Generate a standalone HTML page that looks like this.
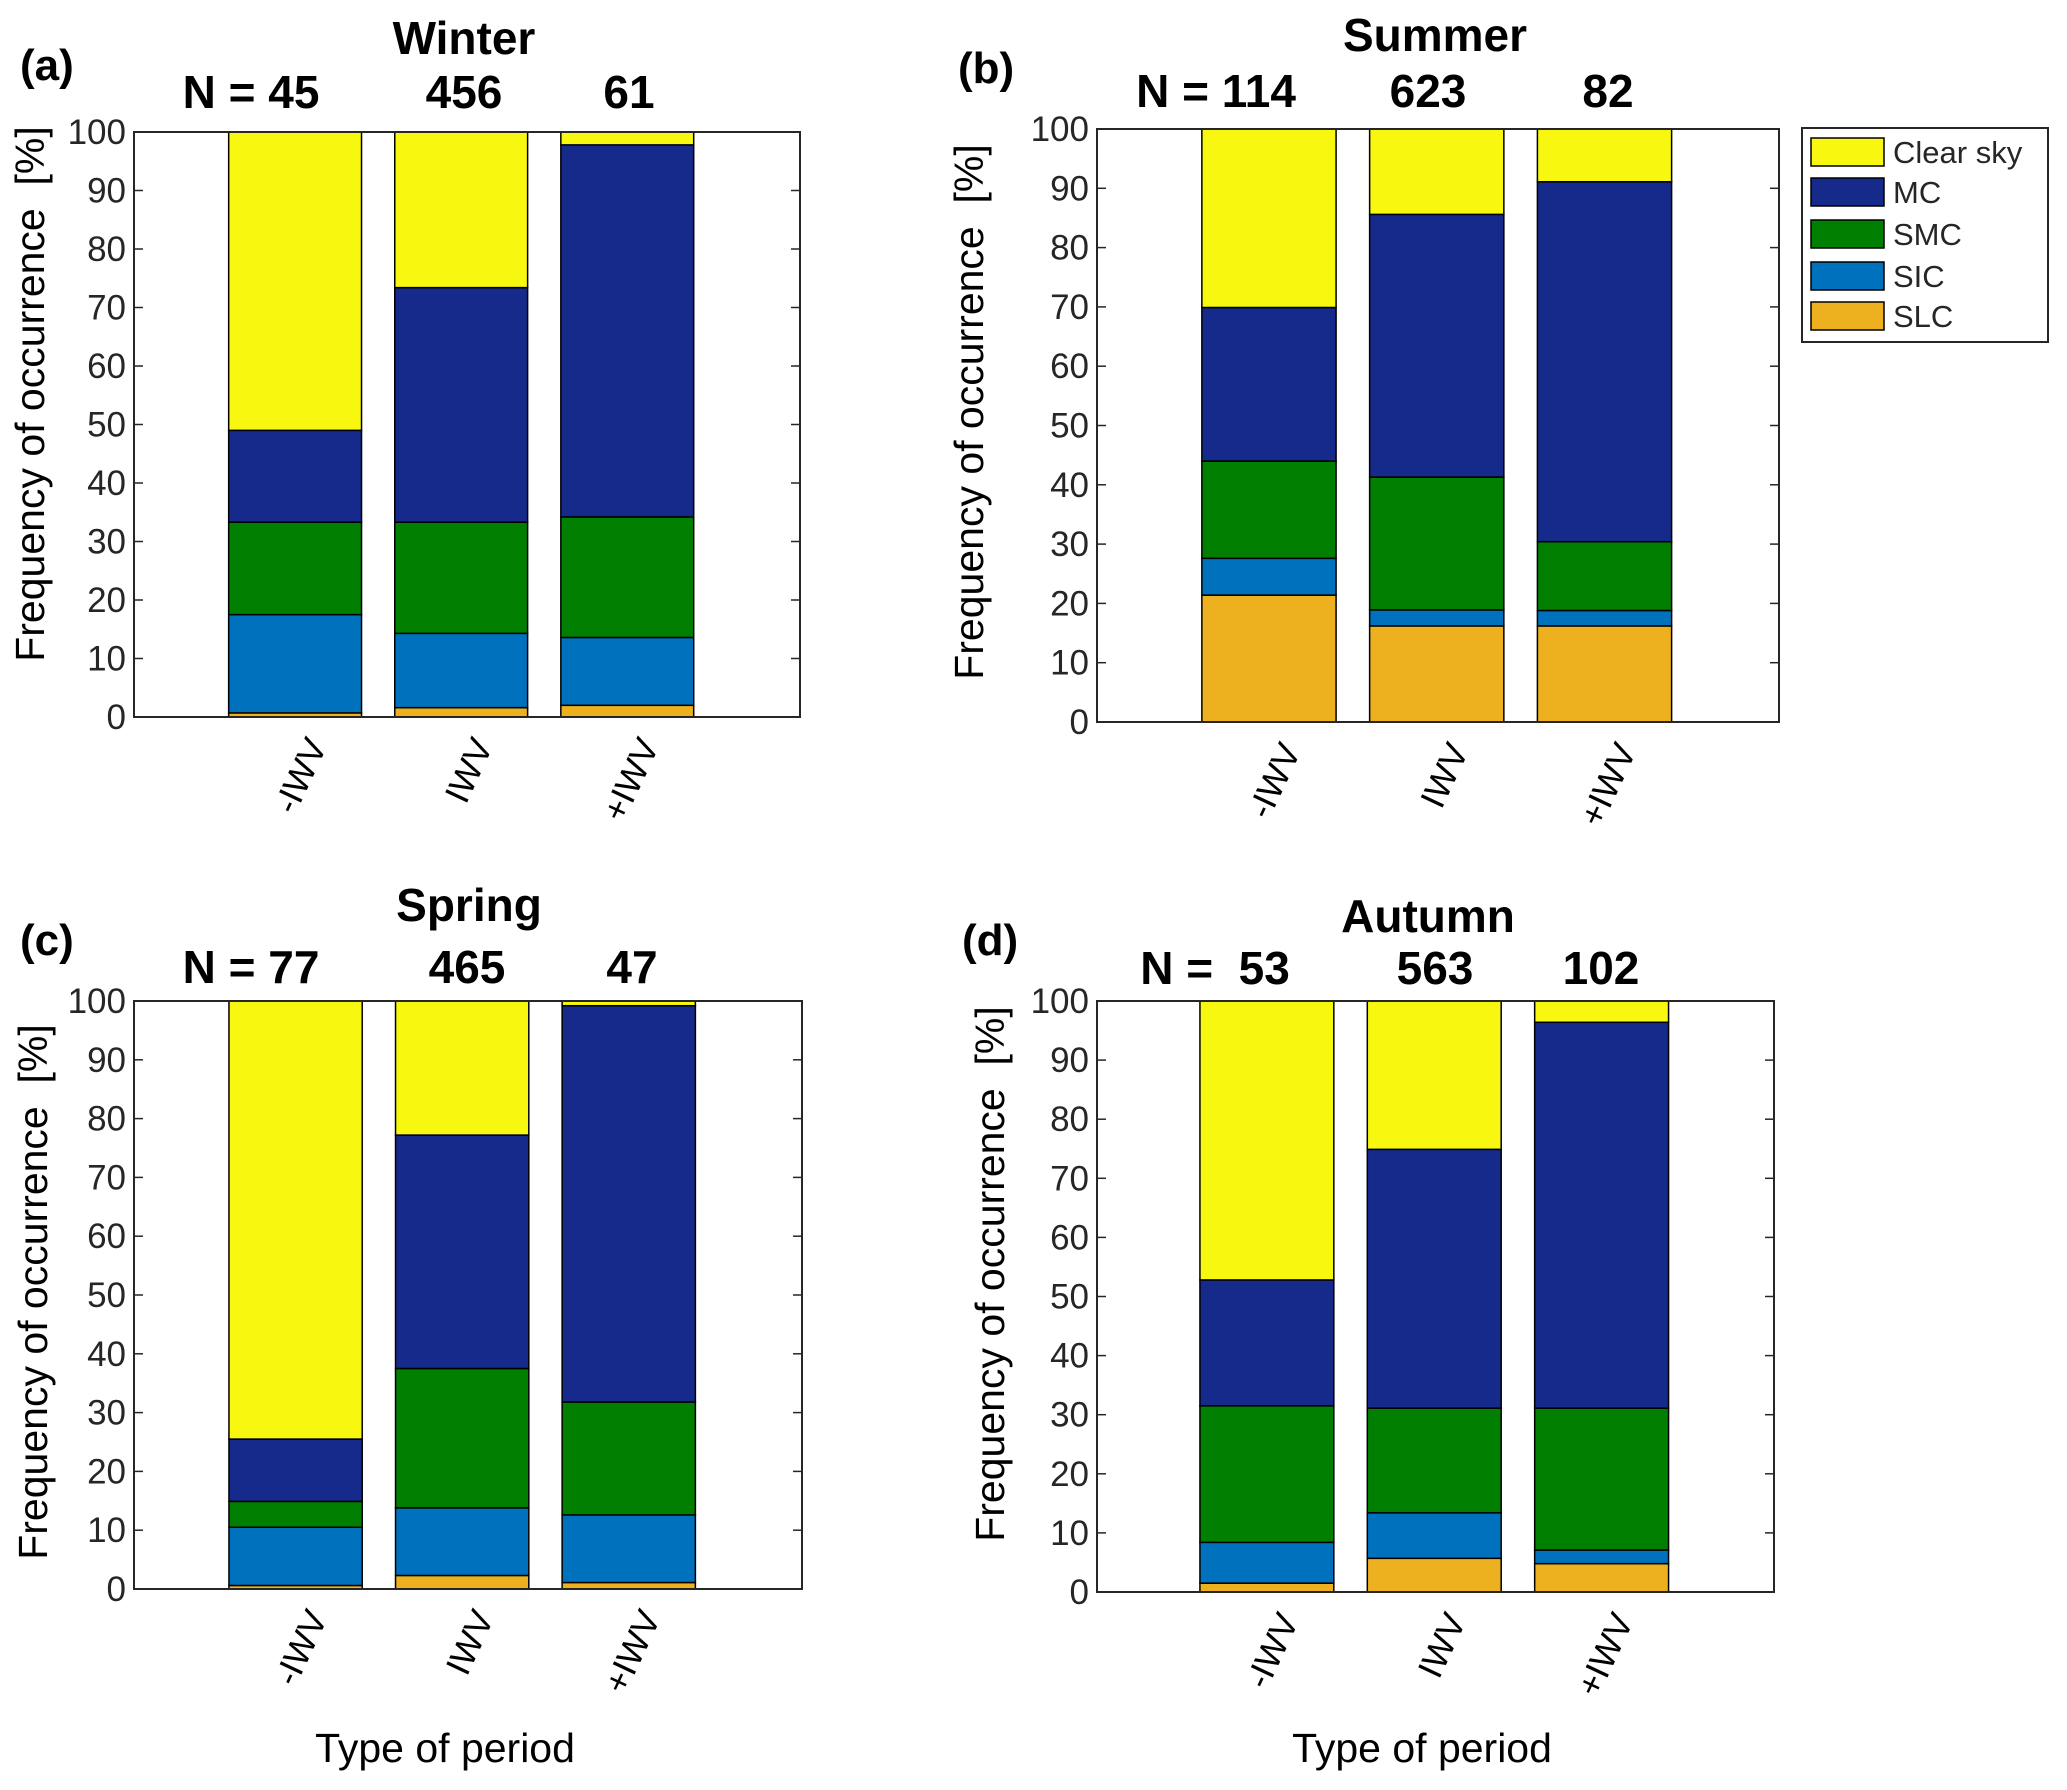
<!DOCTYPE html>
<html><head><meta charset="utf-8"><style>
html,body{margin:0;padding:0;background:#fff;}
svg{display:block;font-family:"Liberation Sans",Arial,sans-serif;}
</style></head><body>
<svg id="chart" width="2067" height="1790" viewBox="0 0 2067 1790" xmlns="http://www.w3.org/2000/svg"></svg>
<script>
const categories = ["-IWV", "IWV", "+IWV"];
const classes = ["SLC", "SIC", "SMC", "MC", "Clear sky"];
const legendOrder = ["Clear sky", "MC", "SMC", "SIC", "SLC"];
const yTicks = [0, 10, 20, 30, 40, 50, 60, 70, 80, 90, 100];

const winterSLC = [0.7, 1.6, 2.0];
const winterSIC = [16.8, 12.7, 11.6];
const winterSMC = [15.8, 19.0, 20.6];
const winterMC = [15.7, 40.1, 63.6];
const winterClear = [51.0, 26.6, 2.2];
const winterN = ["N = 45", "456", "61"];

const summerSLC = [21.4, 16.2, 16.2];
const summerSIC = [6.2, 2.7, 2.6];
const summerSMC = [16.4, 22.4, 11.6];
const summerMC = [25.9, 44.3, 60.7];
const summerClear = [30.1, 14.4, 8.9];
const summerN = ["N = 114", "623", "82"];

const springSLC = [0.6, 2.3, 1.1];
const springSIC = [9.9, 11.5, 11.5];
const springSMC = [4.4, 23.7, 19.2];
const springMC = [10.6, 39.7, 67.4];
const springClear = [74.5, 22.8, 0.8];
const springN = ["N = 77", "465", "47"];

const autumnSLC = [1.5, 5.7, 4.8];
const autumnSIC = [6.9, 7.7, 2.3];
const autumnSMC = [23.1, 17.7, 24.0];
const autumnMC = [21.3, 43.8, 65.3];
const autumnClear = [47.2, 25.1, 3.6];
const autumnN = ["N =  53", "563", "102"];

const colors = {"SLC":"#edb120","SIC":"#0072bd","SMC":"#007f00","MC":"#152a8a","Clear sky":"#f7f70f"};
const NS = "http://www.w3.org/2000/svg";
const svg = document.getElementById("chart");
function mk(tag, attrs, parent){const e=document.createElementNS(NS,tag);for(const k in attrs)e.setAttribute(k,attrs[k]);(parent||svg).appendChild(e);return e;}

const panels = [
 {key:"winter",title:"Winter",letter:"(a)",series:[winterSLC,winterSIC,winterSMC,winterMC,winterClear],N:winterN,
  box:[134,132,800,717],xlim:[0.03,4.04],titleY:54,nY:108,letterX:20,letterY:80,nX:[251,464,629],titleX:464,ylabX:33,ylabY:394,xlabel:false},
 {key:"summer",title:"Summer",letter:"(b)",series:[summerSLC,summerSIC,summerSMC,summerMC,summerClear],N:summerN,
  box:[1097,129,1779,722],xlim:[-0.025,4.04],titleY:51,nY:107,letterX:958,letterY:83,nX:[1216,1428,1608],titleX:1435,ylabX:972,ylabY:412,xlabel:false},
 {key:"spring",title:"Spring",letter:"(c)",series:[springSLC,springSIC,springSMC,springMC,springClear],N:springN,
  box:[134,1001,802,1589],xlim:[0.03,4.04],titleY:921,nY:983,letterX:20,letterY:955,nX:[251,467,632],titleX:469,ylabX:36,ylabY:1292,xlabel:true,xlabX:445},
 {key:"autumn",title:"Autumn",letter:"(d)",series:[autumnSLC,autumnSIC,autumnSMC,autumnMC,autumnClear],N:autumnN,
  box:[1097,1001,1774,1592],xlim:[-0.015,4.03],titleY:932,nY:984,letterX:962,letterY:955,nX:[1215,1435,1601],titleX:1428,ylabX:993,ylabY:1274,xlabel:true,xlabX:1422}
];

const barW = 0.8;

panels.forEach(p=>{
  const [L,T,R,B] = p.box;
  const [xMin,xMax] = p.xlim;
  const g = mk("g",{});
  
  
  const xs = v => L + (v - xMin)/(xMax - xMin)*(R-L);
  const ys = v => B - v/100*(B-T);
  const bg = mk("rect",{x:L,y:T,width:R-L,height:B-T,fill:"#fff"},g);
  
  
  categories.forEach((c,i)=>{
    let base = 0;
    classes.forEach((cl,k)=>{
      const v = p.series[k][i];
      const r = mk("rect",{x:xs(i+1-barW/2),y:ys(base+v),width:xs(i+1+barW/2)-xs(i+1-barW/2),height:ys(base)-ys(base+v),fill:colors[cl],stroke:"#000","stroke-width":1.5},g);
      
      
      base += v;
    });
    const tx = xs(i+1)+10, ty = B+18;
    const t = mk("text",{x:0,y:0,"font-size":35,"text-anchor":"end","dominant-baseline":"hanging",transform:`translate(${tx},${ty}) rotate(-65)`},g);
    t.textContent = c;
    
    
  });
  yTicks.forEach(v=>{
    mk("line",{x1:L,x2:L+9,y1:ys(v),y2:ys(v),stroke:"#262626","stroke-width":1.5},g);
    mk("line",{x1:R,x2:R-9,y1:ys(v),y2:ys(v),stroke:"#262626","stroke-width":1.5},g);
    const t = mk("text",{x:L-8,y:ys(v)+12,"font-size":35,"text-anchor":"end",fill:"#262626"},g);
    t.textContent = v;
    
    
  });
  const fr = mk("rect",{x:L,y:T,width:R-L,height:B-T,fill:"none",stroke:"#262626","stroke-width":2},g);
  
  
  const yl = mk("text",{x:0,y:0,"font-size":41,"text-anchor":"middle","dominant-baseline":"middle",transform:`translate(${p.ylabX},${p.ylabY}) rotate(-90)`,"xml:space":"preserve",style:"white-space:pre"},g);
  yl.textContent = "Frequency of occurrence  [%]";
  
  
  const ti = mk("text",{x:p.titleX,y:p.titleY,"font-size":46,"font-weight":"bold","text-anchor":"middle"},g);
  ti.textContent = p.title;
  
  
  const le = mk("text",{x:p.letterX,y:p.letterY,"font-size":44,"font-weight":"bold"},g);
  le.textContent = p.letter;
  
  
  p.N.forEach((n,i)=>{
    const t = mk("text",{x:p.nX[i],y:p.nY,"font-size":46,"font-weight":"bold","text-anchor":"middle",style:"white-space:pre"},g);
    t.textContent = n;
    
    
  });
  if(p.xlabel){
    const xl = mk("text",{x:p.xlabX,y:1762,"font-size":41,"text-anchor":"middle"},g);
    xl.textContent = "Type of period";
    
    
  }
});

const lg = mk("g",{});


mk("rect",{x:1802,y:128,width:246,height:214,fill:"#fff",stroke:"#262626","stroke-width":2},lg);
const legY = [152,192,234,276,316];
legendOrder.forEach((cl,i)=>{
  const sw = mk("rect",{x:1811,y:legY[i]-14,width:73,height:28,fill:colors[cl],stroke:"#000","stroke-width":1.5},lg);
  
  
  const t = mk("text",{x:1893,y:legY[i]+11,"font-size":31,fill:"#262626"},lg);
  t.textContent = cl;
  
  
});
</script>
</body></html>
